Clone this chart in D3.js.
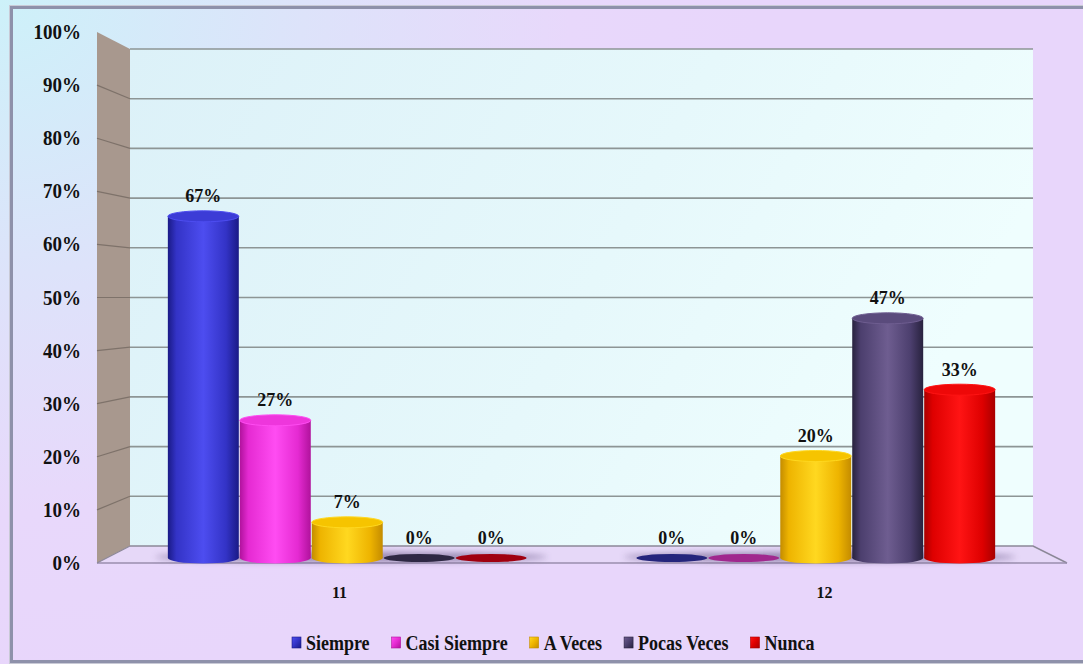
<!DOCTYPE html>
<html>
<head>
<meta charset="utf-8">
<script src="https://cdn.jsdelivr.net/npm/d3@7"></script>
<style>
  html, body { margin: 0; padding: 0; background: #ffffff; }
  svg { display: block; }
</style>
</head>
<body>
<svg id="chart" width="1083" height="664"></svg>
<script>
// Survey answers for items 11 and 12 (percent of respondents)
const categories = ["11", "12"];
const seriesNames = ["Siempre", "Casi Siempre", "A Veces", "Pocas Veces", "Nunca"];
const siempre     = [67, 0];
const casiSiempre = [27, 0];
const aVeces      = [7, 20];
const pocasVeces  = [0, 47];
const nunca       = [0, 33];
const yTicks = [0, 10, 20, 30, 40, 50, 60, 70, 80, 90, 100];

const seriesValues = [siempre, casiSiempre, aVeces, pocasVeces, nunca];
const FONT = "'Liberation Serif', 'Times New Roman', Times, serif";

// Cylinder shading: dark edge, mid tone, highlight, flat colour for empty bars
const palette = {
  "Siempre":      { dark: "#1a1a86", mid: "#3333c6", light: "#4d4df0", top: "#3c3cd6", zero: "#25257c" },
  "Casi Siempre": { dark: "#b0129c", mid: "#e52ad2", light: "#ff4cf2", top: "#ee36dc", zero: "#a0288e" },
  "A Veces":      { dark: "#c48c00", mid: "#eeb400", light: "#ffd820", top: "#f6c400", zero: "#b08000" },
  "Pocas Veces":  { dark: "#28223e", mid: "#4c3f6e", light: "#6e5d90", top: "#5a4b7c", zero: "#2e2844" },
  "Nunca":        { dark: "#a80000", mid: "#de0000", light: "#ff1414", top: "#ee0808", zero: "#a00010" }
};

const svg = d3.select("#chart");
const W = 1083, H = 664;
const defs = svg.append("defs");

// ---- geometry of the 3-D box ----
const box = { fx0: 97, fx1: 1067, bx0: 130, bx1: 1033 };
const yFront = d3.scaleLinear().domain([0, 100]).range([563, 32]);
const yBack  = d3.scaleLinear().domain([0, 100]).range([546, 49]);
const yBar   = d3.scaleLinear().domain([0, 100]).range([558, 48]);

const x0 = d3.scaleBand().domain(categories).range([113, 1050]);
const groupW = x0.bandwidth() * 0.768;
const x1 = d3.scaleBand().domain(seriesNames).range([0, groupW]);
const xFront = d3.scaleBand().domain(categories).range([box.fx0, box.fx1]);

// ---- gradients ----
const bg = defs.append("radialGradient").attr("id", "bg")
  .attr("gradientUnits", "userSpaceOnUse").attr("cx", 0).attr("cy", 0).attr("r", 760)
  .attr("gradientTransform", "scale(1,0.9)");
bg.append("stop").attr("offset", "0").attr("stop-color", "#cdf1f9");
bg.append("stop").attr("offset", "0.4").attr("stop-color", "#dde3fa");
bg.append("stop").attr("offset", "0.75").attr("stop-color", "#e8d8fb");
bg.append("stop").attr("offset", "1").attr("stop-color", "#e8d6fb");

const wall = defs.append("linearGradient").attr("id", "wall")
  .attr("x1", 0).attr("y1", 0).attr("x2", 1).attr("y2", 0.3);
wall.append("stop").attr("offset", "0").attr("stop-color", "#dcf1f8");
wall.append("stop").attr("offset", "0.6").attr("stop-color", "#e6f8fb");
wall.append("stop").attr("offset", "1").attr("stop-color", "#effefe");

seriesNames.forEach((s, i) => {
  const c = palette[s];
  const g = defs.append("linearGradient").attr("id", "body" + i)
    .attr("x1", 0).attr("y1", 0).attr("x2", 1).attr("y2", 0);
  [[0, c.dark], [0.12, c.mid], [0.5, c.light], [0.82, c.mid], [1, c.dark]].forEach(([o, col]) =>
    g.append("stop").attr("offset", o).attr("stop-color", col));
  const lg = defs.append("linearGradient").attr("id", "leg" + i)
    .attr("x1", 0).attr("y1", 0).attr("x2", 1).attr("y2", 1);
  [[0, c.light], [0.5, c.mid], [1, c.dark]].forEach(([o, col]) =>
    lg.append("stop").attr("offset", o).attr("stop-color", col));
});

defs.append("filter").attr("id", "soft").attr("x", "-20%").attr("y", "-200%")
  .attr("width", "140%").attr("height", "500%")
  .append("feGaussianBlur").attr("stdDeviation", 3);

// ---- background & frame ----
svg.append("rect").attr("width", W).attr("height", H).attr("fill", "url(#bg)");
svg.append("rect").attr("x", 11.5).attr("y", 7.5).attr("width", W + 10).attr("height", 654)
  .attr("fill", "none").attr("stroke", "#8e91aa").attr("stroke-width", 3);
svg.append("rect").attr("x", 9.5).attr("y", 5.5).attr("width", W + 10).attr("height", 658)
  .attr("fill", "none").attr("stroke", "#c9cad6").attr("stroke-width", 1);

// ---- back wall ----
svg.append("rect").attr("x", box.bx0).attr("y", yBack(100))
  .attr("width", box.bx1 - box.bx0).attr("height", yBack(0) - yBack(100))
  .attr("fill", "url(#wall)");

// ---- side wall ----
svg.append("path")
  .attr("d", `M${box.fx0},${yFront(100)} L${box.bx0},${yBack(100)} L${box.bx0},${yBack(0)} L${box.fx0},${yFront(0)} Z`)
  .attr("fill", "#a8988e");

// ---- floor ----
svg.append("path")
  .attr("d", `M${box.fx0},${yFront(0)} L${box.bx0},${yBack(0)} L${box.bx1},${yBack(0)} L${box.fx1},${yFront(0)} Z`)
  .attr("fill", "#e6d8f8");

// ---- gridlines ----
svg.append("g").selectAll("line").data(yTicks.filter(t => t > 0)).join("line")
  .attr("x1", box.bx0).attr("x2", box.bx1)
  .attr("y1", d => yBack(d)).attr("y2", d => yBack(d))
  .attr("stroke", "#8d9595").attr("stroke-width", 1.6);
svg.append("g").selectAll("line").data(yTicks.filter(t => t > 0 && t < 100)).join("line")
  .attr("x1", box.fx0).attr("x2", box.bx0)
  .attr("y1", d => yFront(d)).attr("y2", d => yBack(d))
  .attr("stroke", "#7e726a").attr("stroke-width", 1.2);

// floor outline
svg.append("path")
  .attr("d", `M${box.bx0},${yBack(0)} L${box.bx1},${yBack(0)} L${box.fx1},${yFront(0)}`)
  .attr("fill", "none").attr("stroke", "#8c8898").attr("stroke-width", 1.6);
svg.append("line").attr("x1", box.fx0).attr("x2", box.fx1)
  .attr("y1", yFront(0)).attr("y2", yFront(0))
  .attr("stroke", "#9a8eae").attr("stroke-width", 1.6);
svg.append("line").attr("x1", box.fx0).attr("x2", box.bx0)
  .attr("y1", yFront(0)).attr("y2", yBack(0))
  .attr("stroke", "#8c8898").attr("stroke-width", 1.2);

// ---- stretched serif text helper ----
function stretchedText(parent, x, y, sy, size) {
  return parent.append("text")
    .attr("transform", `translate(${x},${y}) scale(1,${sy})`).attr("x", 0).attr("y", 0)
    .attr("font-family", FONT).attr("font-weight", "bold").attr("font-size", size)
    .style("font-family", FONT).attr("fill", "#111");
}

// ---- y axis labels ----
yTicks.forEach(t => {
  stretchedText(svg, 81, yFront(t) + 7, 1.08, 19).attr("text-anchor", "end").text(t + "%");
});

// ---- bars ----
const ry = 5.5;
const bars = [];
categories.forEach((c, ci) => {
  const gx = x0(c) + (x0.bandwidth() - groupW) / 2;
  seriesNames.forEach((s, si) => {
    bars.push({ cat: c, series: s, si, value: seriesValues[si][ci], cx: gx + x1(s) + x1.bandwidth() / 2 });
  });
  // soft shadow under the group
  svg.append("ellipse")
    .attr("cx", gx + groupW / 2 + 4).attr("cy", yBar(0) - 1)
    .attr("rx", groupW / 2 + 16).attr("ry", 5)
    .attr("fill", "#5a4878").attr("opacity", 0.55).attr("filter", "url(#soft)");
});

const r = x1.bandwidth() / 2 - 0.5;
const barG = svg.append("g");
bars.forEach(b => {
  const c = palette[b.series];
  const yb = yBar(0), yt = yBar(b.value);
  const g = barG.append("g");
  if (b.value > 0) {
    g.append("rect").attr("x", b.cx - r).attr("y", yt).attr("width", 2 * r).attr("height", yb - yt)
      .attr("fill", `url(#body${b.si})`);
    g.append("ellipse").attr("cx", b.cx).attr("cy", yb).attr("rx", r).attr("ry", ry)
      .attr("fill", `url(#body${b.si})`);
    g.append("ellipse").attr("cx", b.cx).attr("cy", yt).attr("rx", r).attr("ry", ry)
      .attr("fill", c.top).attr("stroke", c.light).attr("stroke-width", 1);
  } else {
    g.append("ellipse").attr("cx", b.cx).attr("cy", yb).attr("rx", r).attr("ry", 4)
      .attr("fill", c.zero);
  }
  stretchedText(g, b.cx, yt - 14, 1.08, 18).attr("text-anchor", "middle").text(b.value + "%");
});

// ---- category labels ----
categories.forEach(c => {
  stretchedText(svg, xFront(c) + xFront.bandwidth() / 2, 598, 1.1, 16)
    .attr("text-anchor", "middle").text(c);
});

// ---- legend ----
const legend = svg.append("g");
let lx = 0;
seriesNames.forEach((s, i) => {
  const it = legend.append("g").attr("transform", `translate(${lx},0)`);
  it.append("rect").attr("x", 0).attr("y", 637).attr("width", 9).attr("height", 11)
    .attr("fill", `url(#leg${i})`).attr("stroke", palette[s].dark).attr("stroke-width", 0.6);
  const t = stretchedText(it, 14, 650, 1.15, 18).text(s);
  lx += 14 + t.node().getComputedTextLength() + 22;
});
const legendW = lx - 22;
legend.attr("transform", `translate(${Math.round(553 - legendW / 2)},0)`);
</script>
</body>
</html>
